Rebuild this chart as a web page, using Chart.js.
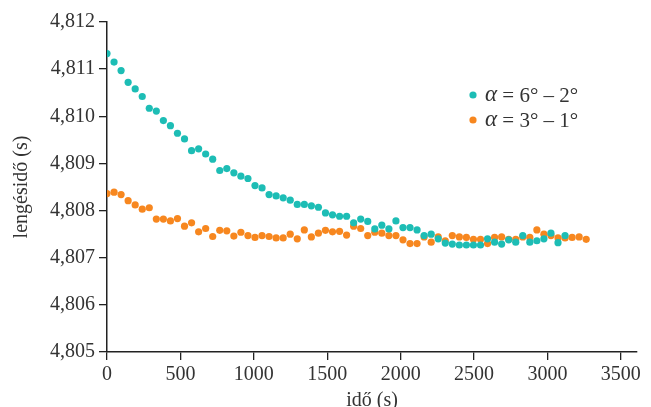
<!DOCTYPE html>
<html>
<head>
<meta charset="utf-8">
<script src="https://cdn.jsdelivr.net/npm/chart.js@4.4.1/dist/chart.umd.min.js"></script>
<style>
  html, body { margin: 0; padding: 0; background: #fff; }
  #wrap { width: 651px; height: 407px; }
</style>
</head>
<body>
<div id="wrap"><canvas id="pendulum" width="651" height="407"></canvas></div>
<script>
// measurement times (s)
const times = [0, 48, 96, 144, 192, 240, 288, 336, 384, 432, 480, 528, 576, 624, 672, 720, 768, 816, 864, 912,
    960, 1008, 1056, 1104, 1152, 1200, 1248, 1296, 1344, 1392, 1440, 1488, 1536, 1584, 1632, 1680, 1728, 1776,
    1824, 1872, 1920, 1968, 2016, 2064, 2112, 2160, 2208, 2256, 2304, 2352, 2400, 2448, 2496, 2544, 2592, 2640,
    2688, 2736, 2784, 2832, 2880, 2928, 2976, 3024, 3072, 3120, 3168, 3216, 3264];

// period (s), alpha = 6° – 2°
const periodLarge = [4.81133, 4.81115, 4.81097, 4.81072, 4.81058, 4.81042, 4.81017, 4.81011, 4.80991, 4.80980,
    4.80964, 4.80952, 4.80927, 4.80931, 4.80920, 4.80909, 4.80885, 4.80889, 4.80880, 4.80873,
    4.80868, 4.80853, 4.80848, 4.80834, 4.80831, 4.80827, 4.80822, 4.80813, 4.80813, 4.80810,
    4.80807, 4.80795, 4.80791, 4.80788, 4.80788, 4.80774, 4.80782, 4.80777, 4.80761, 4.80769,
    4.80761, 4.80778, 4.80764, 4.80764, 4.80759, 4.80747, 4.80750, 4.80740, 4.80731, 4.80729,
    4.80727, 4.80727, 4.80727, 4.80727, 4.80740, 4.80733, 4.80729, 4.80738, 4.80733, 4.80747,
    4.80733, 4.80736, 4.80740, 4.80752, 4.80732, 4.80747];

// period (s), alpha = 3° – 1°
const periodSmall = [4.80836, 4.80839, 4.80834, 4.80821, 4.80812, 4.80803, 4.80806, 4.80782, 4.80782, 4.80778,
    4.80783, 4.80767, 4.80774, 4.80755, 4.80762, 4.80745, 4.80758, 4.80757, 4.80746, 4.80754,
    4.80747, 4.80743, 4.80747, 4.80745, 4.80742, 4.80742, 4.80750, 4.80740, 4.80759, 4.80744,
    4.80752, 4.80758, 4.80755, 4.80756, 4.80748, 4.80767, 4.80762, 4.80747, 4.80754, 4.80752,
    4.80747, 4.80747, 4.80738, 4.80730, 4.80730, 4.80744, 4.80733, 4.80744, 4.80736, 4.80747,
    4.80744, 4.80743, 4.80739, 4.80739, 4.80730, 4.80743, 4.80744, 4.80739, 4.80739, 4.80744,
    4.80743, 4.80759, 4.80750, 4.80747, 4.80742, 4.80742, 4.80743, 4.80744, 4.80739];

const alphaRanges = ['6° – 2°', '3° – 1°'];
const xTickValues = [0, 500, 1000, 1500, 2000, 2500, 3000, 3500];
const yTickValues = [4.805, 4.806, 4.807, 4.808, 4.809, 4.810, 4.811, 4.812];

const SERIF = '"Liberation Serif", "DejaVu Serif", serif';
const TEXT = '#333333';
const AXIS = '#222222';

const toPoints = (vals) => vals.map((v, i) => ({ x: times[i], y: v }));

// legend drawn inside the plot, top right
const insideLegend = {
    id: 'insideLegend',
    afterDraw(chart) {
        const ctx = chart.ctx;
        const area = chart.chartArea;
        ctx.save();
        chart.data.datasets.forEach((ds, i) => {
            const x = area.left + 366;
            const y = area.top + 73 + i * 25;
            ctx.beginPath();
            ctx.arc(x, y, 3.6, 0, Math.PI * 2);
            ctx.fillStyle = ds.backgroundColor;
            ctx.fill();
            ctx.fillStyle = TEXT;
            ctx.textBaseline = 'middle';
            ctx.font = 'italic 23px ' + SERIF;
            ctx.fillText('α', x + 12, y);
            const w = ctx.measureText('α').width;
            ctx.font = '21px ' + SERIF;
            ctx.fillText(' = ' + alphaRanges[i], x + 12 + w, y + 1);
        });
        ctx.restore();
    }
};

new Chart(document.getElementById('pendulum'), {
    type: 'scatter',
    data: {
        datasets: [
            {
                label: 'α = ' + alphaRanges[0],
                data: toPoints(periodLarge),
                backgroundColor: '#1dbdb5',
                borderWidth: 0,
                pointRadius: 3.6
            },
            {
                label: 'α = ' + alphaRanges[1],
                data: toPoints(periodSmall),
                backgroundColor: '#f7871f',
                borderWidth: 0,
                pointRadius: 3.6
            }
        ]
    },
    options: {
        responsive: false,
        animation: false,
        devicePixelRatio: 1,
        layout: { padding: { top: 22, right: 14, bottom: 0, left: 0 } },
        plugins: {
            legend: { display: false },
            tooltip: { enabled: false }
        },
        scales: {
            x: {
                type: 'linear',
                min: 0,
                max: 3610,
                afterBuildTicks: (scale) => { scale.ticks = xTickValues.map(v => ({ value: v })); },
                afterFit: (scale) => { scale.height = 55; },
                ticks: {
                    font: { family: SERIF, size: 20 },
                    color: TEXT,
                    padding: 3,
                    maxRotation: 0,
                    callback: (v) => String(v)
                },
                grid: {
                    drawOnChartArea: false,
                    drawTicks: true,
                    tickLength: 8,
                    color: AXIS,
                    lineWidth: 1.3
                },
                border: { display: true, color: AXIS, width: 1.5 },
                title: {
                    display: true,
                    text: 'idő (s)',
                    font: { family: SERIF, size: 20 },
                    color: TEXT,
                    padding: { top: 0, bottom: -6 }
                }
            },
            y: {
                min: 4.805,
                max: 4.812,
                afterBuildTicks: (scale) => { scale.ticks = yTickValues.map(v => ({ value: v })); },
                afterFit: (scale) => { scale.width = 107; },
                ticks: {
                    font: { family: SERIF, size: 20 },
                    color: TEXT,
                    padding: 4,
                    callback: (v) => v.toFixed(3).replace('.', ',')
                },
                grid: {
                    drawOnChartArea: false,
                    drawTicks: true,
                    tickLength: 8,
                    color: AXIS,
                    lineWidth: 1.3
                },
                border: { display: true, color: AXIS, width: 1.5 },
                title: {
                    display: true,
                    text: 'lengésidő (s)',
                    font: { family: SERIF, size: 20 },
                    color: TEXT,
                    padding: { top: 10, bottom: 0 }
                }
            }
        }
    },
    plugins: [insideLegend]
});
</script>
</body>
</html>
